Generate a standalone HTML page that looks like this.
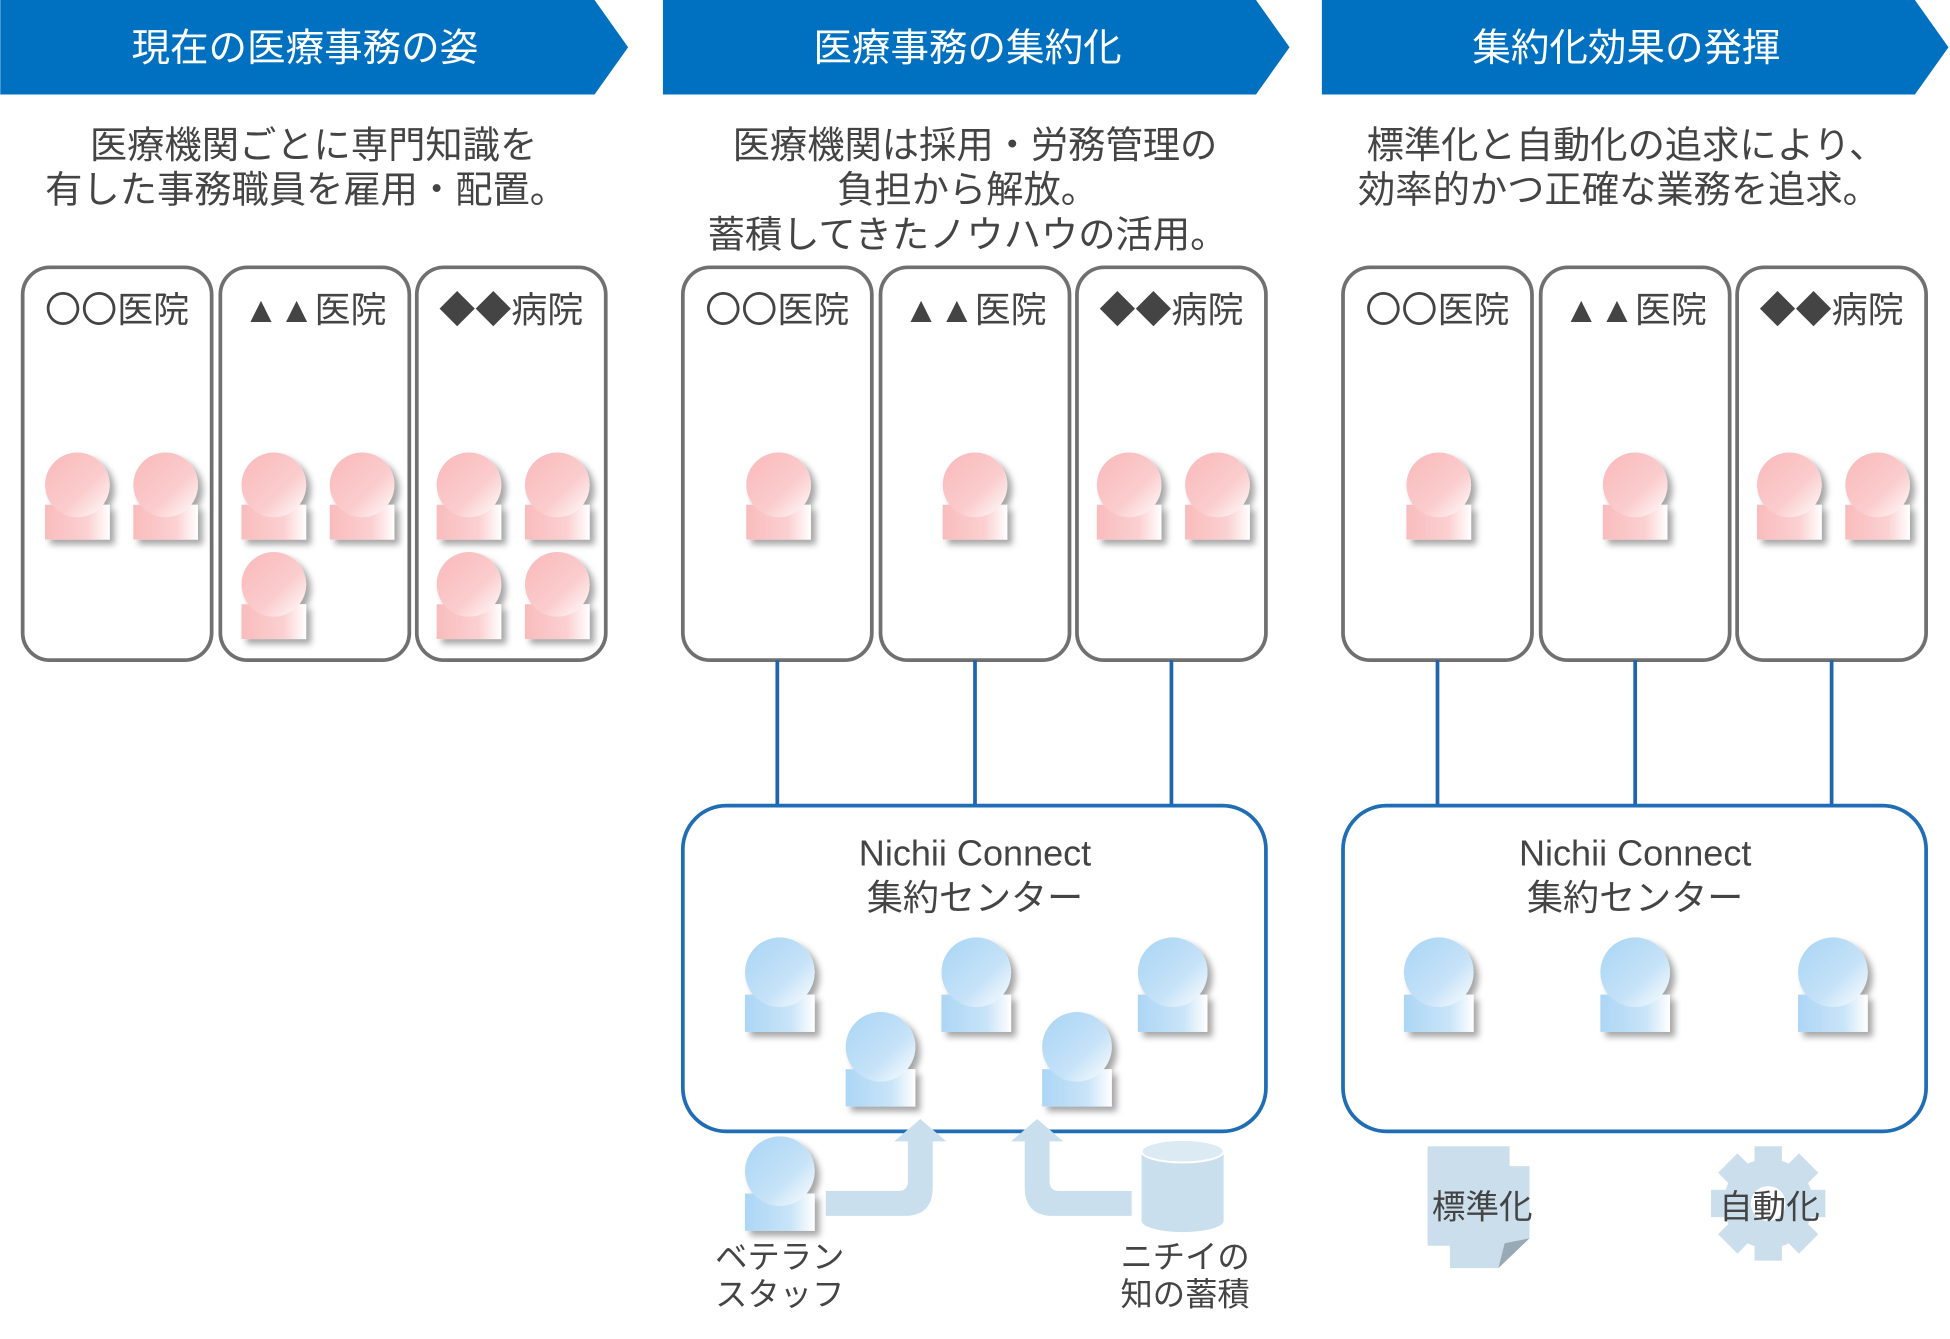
<!DOCTYPE html>
<html><head><meta charset="utf-8"><style>html,body{margin:0;padding:0;background:#fff}svg{display:block}text{font-family:"Liberation Sans","Noto Sans CJK JP",sans-serif}.cj{font-family:"Noto Sans CJK JP",sans-serif}</style></head><body>
<svg width="1950" height="1339" viewBox="0 0 1568 1077" xmlns="http://www.w3.org/2000/svg">
<defs>
<linearGradient id="pk" x1="0" y1="0" x2="1" y2="1"><stop offset="0" stop-color="#f9b9ba"/><stop offset="0.6" stop-color="#fbcccd"/><stop offset="1" stop-color="#fff"/></linearGradient>
<linearGradient id="pkb" x1="0" y1="0" x2="1" y2="0"><stop offset="0" stop-color="#f9bcbd"/><stop offset="0.65" stop-color="#fbd0d1"/><stop offset="1" stop-color="#fff"/></linearGradient>
<linearGradient id="bl" x1="0" y1="0" x2="1" y2="1"><stop offset="0" stop-color="#a9d5f5"/><stop offset="0.6" stop-color="#c5e2f8"/><stop offset="1" stop-color="#fff"/></linearGradient>
<linearGradient id="blb" x1="0" y1="0" x2="1" y2="0"><stop offset="0" stop-color="#acd6f5"/><stop offset="0.65" stop-color="#c8e4f8"/><stop offset="1" stop-color="#fff"/></linearGradient>
<filter id="sh" x="-50%" y="-50%" width="200%" height="200%"><feDropShadow dx="4" dy="4" stdDeviation="2.5" flood-color="#000" flood-opacity="0.35"/></filter>
<g id="pp" filter="url(#sh)"><rect x="-26" y="16" width="52" height="28" fill="url(#pkb)"/><circle cx="0" cy="0" r="26" fill="url(#pk)"/></g>
<g id="bp" filter="url(#sh)"><rect x="-28" y="18" width="56" height="30" fill="url(#blb)"/><circle cx="0" cy="0" r="28" fill="url(#bl)"/></g>
</defs>
<g fill="#0070c0">
<polygon points="0,0 478,0 505,38 478,76 0,76"/>
<polygon points="533,0 1010,0 1037,38 1010,76 533,76"/>
<polygon points="1063,0 1540,0 1567,38 1540,76 1063,76"/>
</g>
<g fill="#fff" font-size="31" text-anchor="middle">
<text x="245" y="49">現在の医療事務の姿</text>
<text x="778" y="49">医療事務の集約化</text>
<text x="1308" y="49">集約化効果の発揮</text>
</g>
<g fill="#444" font-size="30" text-anchor="middle">
<text x="252" y="127">医療機関ごとに専門知識を</text>
<text x="246" y="163">有した事務職員を雇用・配置。</text>
<text x="784" y="127">医療機関は採用・労務管理の</text>
<text x="778" y="163">負担から解放。</text>
<text x="778" y="199">蓄積してきたノウハウの活用。</text>
<text x="1308" y="127">標準化と自動化の追求により、</text>
<text x="1302" y="163">効率的かつ正確な業務を追求。</text>
</g>
<g fill="#fff" stroke="#707070" stroke-width="3">
<rect x="18" y="215" width="152" height="316" rx="22"/><rect x="177" y="215" width="152" height="316" rx="22"/><rect x="335" y="215" width="152" height="316" rx="22"/>
<rect x="549" y="215" width="152" height="316" rx="22"/><rect x="708" y="215" width="152" height="316" rx="22"/><rect x="866" y="215" width="152" height="316" rx="22"/>
<rect x="1080" y="215" width="152" height="316" rx="22"/><rect x="1239" y="215" width="152" height="316" rx="22"/><rect x="1397" y="215" width="152" height="316" rx="22"/>
</g>
<g fill="#444" font-size="29" text-anchor="middle" class="cj">
<text x="94" y="259">〇〇医院</text><text x="253" y="259">▲▲医院</text><text x="411" y="259">◆◆病院</text>
<text x="625" y="259">〇〇医院</text><text x="784" y="259">▲▲医院</text><text x="942" y="259">◆◆病院</text>
<text x="1156" y="259">〇〇医院</text><text x="1315" y="259">▲▲医院</text><text x="1473" y="259">◆◆病院</text>
</g>
<use href="#pp" x="62" y="390"/><use href="#pp" x="133" y="390"/>
<use href="#pp" x="220" y="390"/><use href="#pp" x="291" y="390"/><use href="#pp" x="220" y="470"/>
<use href="#pp" x="377" y="390"/><use href="#pp" x="448" y="390"/><use href="#pp" x="377" y="470"/><use href="#pp" x="448" y="470"/>
<use href="#pp" x="626" y="390"/><use href="#pp" x="784" y="390"/><use href="#pp" x="908" y="390"/><use href="#pp" x="979" y="390"/>
<use href="#pp" x="1157" y="390"/><use href="#pp" x="1315" y="390"/><use href="#pp" x="1439" y="390"/><use href="#pp" x="1510" y="390"/>
<g stroke="#1f65ad" stroke-width="3">
<line x1="625" y1="531" x2="625" y2="648"/><line x1="784" y1="531" x2="784" y2="648"/><line x1="942" y1="531" x2="942" y2="648"/>
<line x1="1156" y1="531" x2="1156" y2="648"/><line x1="1315" y1="531" x2="1315" y2="648"/><line x1="1473" y1="531" x2="1473" y2="648"/>
</g>
<g fill="#fff" stroke="#1f6db5" stroke-width="3">
<rect x="549" y="648" width="469" height="262" rx="35"/>
<rect x="1080" y="648" width="469" height="262" rx="35"/>
</g>
<g fill="#444" font-size="29" text-anchor="middle">
<text x="784" y="696">Nichii Connect</text><text x="784" y="732">集約センター</text>
<text x="1315" y="696">Nichii Connect</text><text x="1315" y="732">集約センター</text>
</g>
<use href="#bp" x="627" y="782"/><use href="#bp" x="785" y="782"/><use href="#bp" x="943" y="782"/><use href="#bp" x="708" y="842"/><use href="#bp" x="866" y="842"/>
<use href="#bp" x="1157" y="782"/><use href="#bp" x="1315" y="782"/><use href="#bp" x="1474" y="782"/>
<g fill="#c9dfee">
<path d="M664,958 L722,958 Q730,958 730,950 L730,918 L719,918 L740,900 L761,918 L750,918 L750,955 Q750,978 727,978 L664,978 Z"/>
<path d="M910,958 L852,958 Q844,958 844,950 L844,918 L855,918 L834,900 L813,918 L824,918 L824,955 Q824,978 847,978 L910,978 Z"/>
<path d="M918,926 L918,982 A33,9 0 0 0 984,982 L984,926 Z"/>
<ellipse cx="951" cy="926" rx="33" ry="9" fill="#dceaf4" stroke="#fff" stroke-width="1.5"/>
</g>
<use href="#bp" x="627" y="942"/>
<g fill="#444" font-size="26" text-anchor="middle">
<text x="627" y="1020">ベテラン</text><text x="627" y="1050">スタッフ</text>
<text x="953" y="1020">ニチイの</text><text x="953" y="1050">知の蓄積</text>
</g>
<g fill="#cbdeeb">
<rect x="1148" y="922" width="66" height="80"/>
<path d="M1166,938 L1230,938 L1230,996 L1205,1020 L1166,1020 Z"/>
</g>
<path d="M1230,996 L1205,1020 L1210,1000 Z" fill="#9aaab5"/>
<g transform="translate(1422,968)" fill="#cbdeeb">
<circle r="36"/>
<g id="tooth"><rect x="-11" y="-46" width="22" height="14"/></g>
<use href="#tooth" transform="rotate(45)"/><use href="#tooth" transform="rotate(90)"/><use href="#tooth" transform="rotate(135)"/>
<use href="#tooth" transform="rotate(180)"/><use href="#tooth" transform="rotate(225)"/><use href="#tooth" transform="rotate(270)"/><use href="#tooth" transform="rotate(315)"/>
<circle r="14" fill="#fff"/>
</g>
<g fill="#444" font-size="27" text-anchor="middle">
<text x="1192" y="980">標準化</text><text x="1423" y="980">自動化</text>
</g>
</svg>
</body></html>
